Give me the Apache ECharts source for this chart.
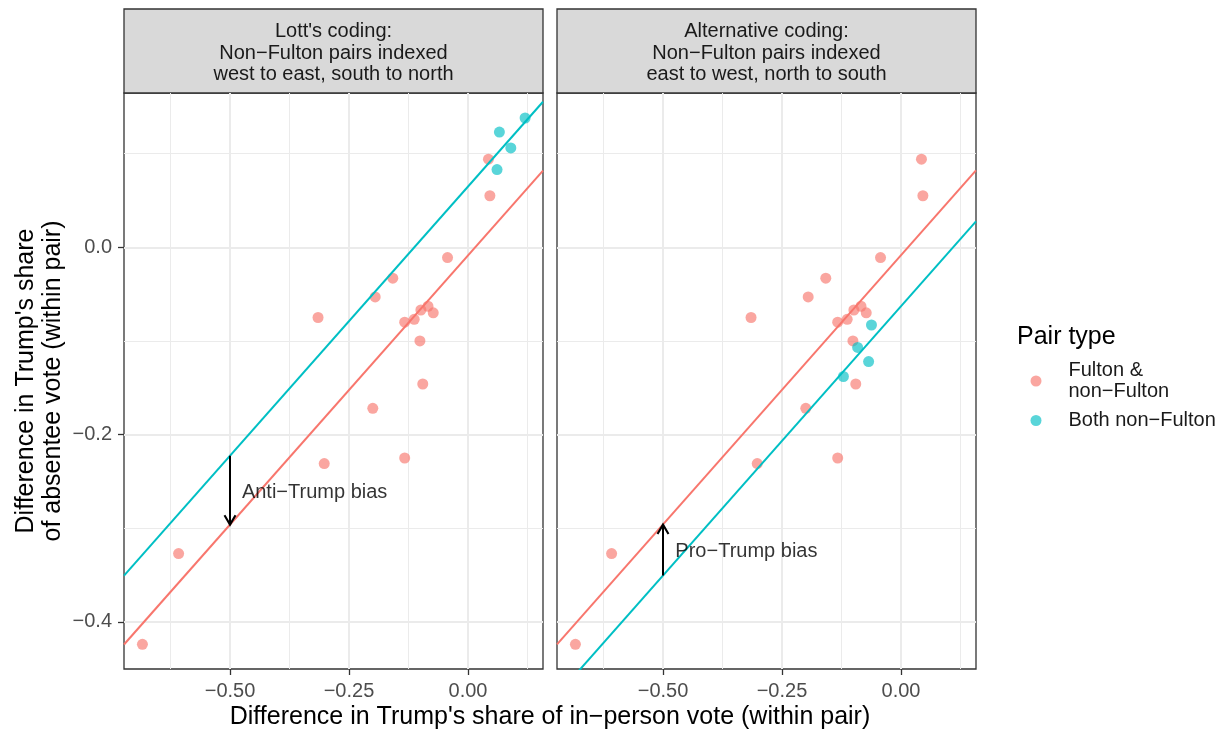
<!DOCTYPE html>
<html><head><meta charset="utf-8">
<script src="https://cdn.jsdelivr.net/npm/echarts@6/dist/echarts.min.js"></script>
<style>html,body{margin:0;padding:0;background:#fff}#c{width:1224px;height:729px}</style>
</head><body><div id="c"></div>
<script>
// ---------- data ----------
const panelTitles = ["Lott's coding:\nNon\u2212Fulton pairs indexed\nwest to east, south to north",
                     "Alternative coding:\nNon\u2212Fulton pairs indexed\neast to west, north to south"];
const groups = ["Fulton &\nnon\u2212Fulton", "Both non\u2212Fulton"];

// Fulton & non-Fulton pairs (identical in both panels)
const fultonX = [0.043, 0.046, -0.043, -0.158, -0.195, -0.315, -0.084, -0.099, -0.073, -0.133, -0.113, -0.101, -0.095, -0.200, -0.133, -0.302, -0.608, -0.684];
const fultonY = [0.094, 0.055, -0.011, -0.033, -0.053, -0.075, -0.063, -0.067, -0.070, -0.080, -0.077, -0.100, -0.146, -0.172, -0.225, -0.231, -0.327, -0.424];

// Both non-Fulton pairs
const lottBothX = [0.120, 0.066, 0.090, 0.061];
const lottBothY = [0.138, 0.123, 0.106, 0.083];
const altBothX = [-0.121, -0.068, -0.091, -0.062];
const altBothY = [-0.138, -0.122, -0.107, -0.083];

// fitted parallel lines: [Fulton, Both]
const lottSlope = 0.5747;
const lottIntercept = [-0.0088, 0.0648];
const altSlope = 0.575;
const altIntercept = [-0.0085, -0.063];

// arrows & notes: [Lott, Alternative]
const arrowX = [-0.5, -0.5];
const arrowFrom = [-0.2226, -0.3505];
const arrowTo = [-0.2962, -0.2960];
const noteText = ["Anti\u2212Trump bias", "Pro\u2212Trump bias"];
const noteX = [-0.475, -0.474];
const noteY = [-0.2615, -0.3245];

// axes
const xRange = [-0.7227, 0.1576];
const yRange = [-0.4503, 0.1647];
const xTicks = [-0.5, -0.25, 0];
const xTickLabels = ["\u22120.50", "\u22120.25", "0.00"];
const xMinor = [-0.625, -0.375, -0.125, 0.125];
const yTicks = [-0.4, -0.2, 0];
const yTickLabels = ["\u22120.4", "\u22120.2", "0.0"];
const yMinor = [-0.3, -0.1, 0.1];

const xTitle = "Difference in Trump's share of in\u2212person vote (within pair)";
const yTitle = "Difference in Trump's share\nof absentee vote (within pair)";
const legendTitle = "Pair type";

// ---------- chart ----------
const FONT = '"Liberation Sans", Arial, Helvetica, sans-serif';
const PINK = '#F8766D', TEAL = '#00BFC4';
// open arrow head, tip at the centre of a 20x20 box (corner points only set the box)
const CHEVRON = 'path://M10,8 L16.4,19 L14.6,20 L10,12.2 L5.4,20 L3.6,19 Z M0,0 L0.01,0 L0,0.01 Z M20,20 L19.99,20 L20,19.99 Z';

function zip(xs, ys) { return xs.map((x, i) => [x, ys[i]]); }
function fitLine(a, b) { return [[xRange[0], a + b * xRange[0]], [xRange[1], a + b * xRange[1]]]; }
function fmt(ticks, labels) {
  return v => { const k = ticks.findIndex(t => Math.abs(t - v) < 1e-9); return k >= 0 ? labels[k] : ''; };
}

const grids = [
  {left: 124, top: 93, width: 419, height: 576},
  {left: 557, top: 93, width: 419, height: 576}
].map(g => Object.assign(g, {show: true, borderColor: '#333333', borderWidth: 1.3, backgroundColor: '#fff', containLabel: false, outerBoundsMode: 'none'}));

function xMajorAxis(g) {
  return {type: 'value', gridIndex: g, min: xRange[0], max: xRange[1], position: 'bottom',
    axisLine: {show: false, onZero: false},
    axisTick: {show: true, length: 6, inside: false, customValues: xTicks, lineStyle: {color: '#333333', width: 1.3}},
    axisLabel: {show: true, customValues: xTicks, formatter: fmt(xTicks, xTickLabels), fontSize: 20, color: '#4D4D4D', fontFamily: FONT, margin: 12},
    splitLine: {show: true, lineStyle: {color: '#EBEBEB', width: 2}}, z: 1};
}
function xMinorAxis(g) {
  return {type: 'value', gridIndex: g, min: xRange[0], max: xRange[1], position: 'top',
    axisLine: {show: false, onZero: false}, axisTick: {show: false, customValues: xMinor},
    axisLabel: {show: false, customValues: xMinor},
    splitLine: {show: true, lineStyle: {color: '#EBEBEB', width: 1}}, z: 0};
}
function yMajorAxis(g, showLab) {
  return {type: 'value', gridIndex: g, min: yRange[0], max: yRange[1], position: 'left',
    axisLine: {show: false, onZero: false},
    axisTick: {show: showLab, length: 6, inside: false, customValues: yTicks, lineStyle: {color: '#333333', width: 1.3}},
    axisLabel: {show: showLab, customValues: yTicks, formatter: fmt(yTicks, yTickLabels), fontSize: 20, color: '#4D4D4D', fontFamily: FONT, margin: 12},
    splitLine: {show: true, lineStyle: {color: '#EBEBEB', width: 2}}, z: 1};
}
function yMinorAxis(g) {
  return {type: 'value', gridIndex: g, min: yRange[0], max: yRange[1], position: 'right',
    axisLine: {show: false, onZero: false}, axisTick: {show: false, customValues: yMinor},
    axisLabel: {show: false, customValues: yMinor},
    splitLine: {show: true, lineStyle: {color: '#EBEBEB', width: 1}}, z: 0};
}

function scatter(name, xi, data, color) {
  return {type: 'scatter', name: name, xAxisIndex: xi, yAxisIndex: xi, data: data, symbol: 'circle', symbolSize: 11,
    itemStyle: {color: color, opacity: 0.65}, emphasis: {disabled: true}, silent: true, z: 3};
}
function fit(xi, a, b, color) {
  return {type: 'line', xAxisIndex: xi, yAxisIndex: xi, data: fitLine(a, b), symbol: 'none', showSymbol: false,
    lineStyle: {color: color, width: 2}, clip: true, silent: true, emphasis: {disabled: true}, z: 4};
}
function note(xi, k) {
  return {type: 'scatter', xAxisIndex: xi, yAxisIndex: xi, symbolSize: 0, silent: true, z: 5,
    data: [{value: [noteX[k], noteY[k]], name: noteText[k]}],
    label: {show: true, position: 'right', distance: 0, formatter: '{b}', fontSize: 20, color: '#000000', fontFamily: FONT},
    markLine: {silent: true, symbol: ['none', CHEVRON], symbolSize: 20,
      label: {show: false}, lineStyle: {color: '#000000', width: 2, type: 'solid', opacity: 1}, emphasis: {disabled: true},
      data: [[{coord: [arrowX[k], arrowFrom[k]]}, {coord: [arrowX[k], arrowTo[k]]}]]}};
}

const stripGraphics = [];
[0, 1].forEach(k => {
  const g = grids[k];
  stripGraphics.push({type: 'rect', shape: {x: g.left, y: 9, width: g.width, height: 84},
    style: {fill: '#D9D9D9', stroke: '#333333', lineWidth: 1.3}, silent: true});
  stripGraphics.push({type: 'text', x: g.left + g.width / 2, y: 53,
    style: {text: panelTitles[k], font: '20px ' + FONT, fill: '#1A1A1A', textAlign: 'center', textVerticalAlign: 'middle', lineHeight: 21.5}, silent: true});
});

const option = {
  animation: false,
  backgroundColor: '#ffffff',
  grid: grids,
  xAxis: [xMajorAxis(0), xMajorAxis(1), xMinorAxis(0), xMinorAxis(1)],
  yAxis: [yMajorAxis(0, true), yMajorAxis(1, false), yMinorAxis(0), yMinorAxis(1)],
  legend: {orient: 'vertical', left: 1030.5, top: 360, padding: 0, itemGap: 8, itemWidth: 11, itemHeight: 11,
    icon: 'circle', selectedMode: false, data: groups, itemStyle: {opacity: 0.65},
    textStyle: {fontSize: 20, lineHeight: 21, color: '#1A1A1A', fontFamily: FONT, padding: [0, 0, 0, 22]}},
  graphic: stripGraphics.concat([
    {type: 'text', x: 550, y: 717, silent: true,
      style: {text: xTitle, font: '25px ' + FONT, fill: '#000', textAlign: 'center', textVerticalAlign: 'middle'}},
    {type: 'text', x: 40, y: 381, rotation: Math.PI / 2, silent: true,
      style: {text: yTitle, font: '25px ' + FONT, fill: '#000', textAlign: 'center', textVerticalAlign: 'middle', lineHeight: 27}},
    {type: 'text', x: 1017, y: 337, silent: true,
      style: {text: legendTitle, font: '25px ' + FONT, fill: '#000', textAlign: 'left', textVerticalAlign: 'middle'}}
  ]),
  series: [
    scatter(groups[0], 0, zip(fultonX, fultonY), PINK),
    scatter(groups[1], 0, zip(lottBothX, lottBothY), TEAL),
    scatter(groups[0], 1, zip(fultonX, fultonY), PINK),
    scatter(groups[1], 1, zip(altBothX, altBothY), TEAL),
    fit(0, lottIntercept[0], lottSlope, PINK),
    fit(0, lottIntercept[1], lottSlope, TEAL),
    fit(1, altIntercept[0], altSlope, PINK),
    fit(1, altIntercept[1], altSlope, TEAL),
    note(0, 0),
    note(1, 1)
  ]
};
const chart = echarts.init(document.getElementById('c'), null, {renderer: 'canvas'});
chart.setOption(option);
</script>
</body></html>
